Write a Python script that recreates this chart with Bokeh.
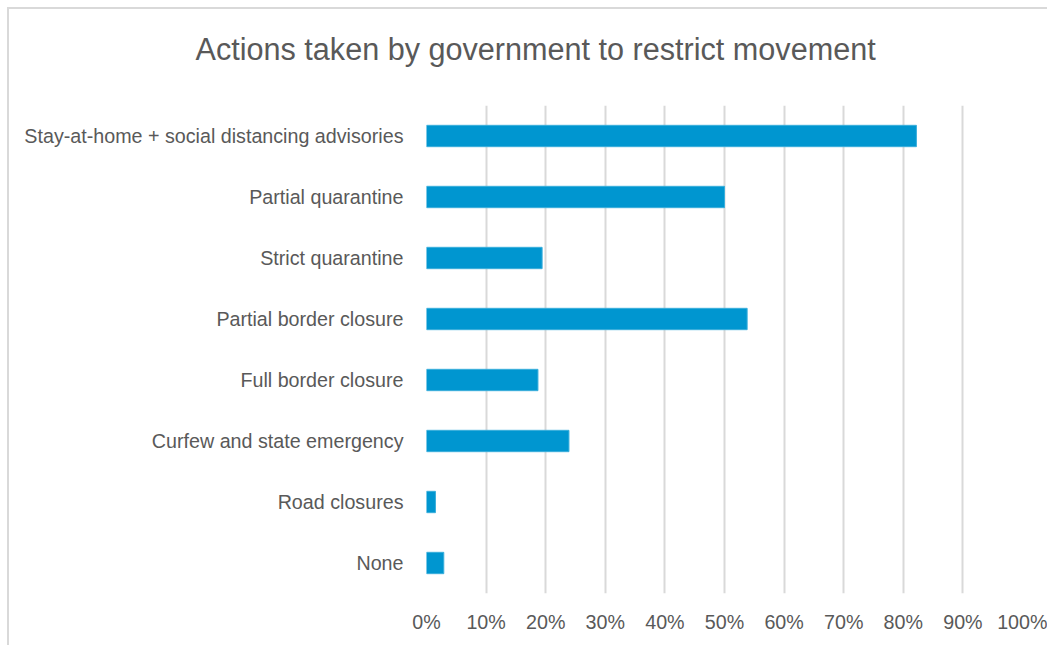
from bokeh.plotting import figure
from bokeh.models import NumeralTickFormatter, FixedTicker, Range1d, Title
from bokeh.embed import file_html
from bokeh.resources import INLINE

categories = [
    "Stay-at-home + social distancing advisories",
    "Partial quarantine",
    "Strict quarantine",
    "Partial border closure",
    "Full border closure",
    "Curfew and state emergency",
    "Road closures",
    "None",
]
values = [0.822, 0.50, 0.194, 0.538, 0.187, 0.239, 0.015, 0.029]
x_ticks = [0.0, 0.1, 0.2, 0.3, 0.4, 0.5, 0.6, 0.7, 0.8, 0.9, 1.0]

FONT = "Liberation Sans"
TEXT = "#595959"

p = figure(
    y_range=list(reversed(categories)),
    x_range=Range1d(0, 1.0),
    width=1040, height=638,
    output_backend="svg", toolbar_location=None,
    min_border_left=417, min_border_right=27,
    min_border_top=94, min_border_bottom=54,
    title="Actions taken by government to restrict movement",
)
p.styles = {"border-left": "2px solid #d9d9d9", "border-top": "2px solid #d9d9d9",
            "margin-left": "7px", "margin-top": "7px"}
p.outline_line_color = None
p.background_fill_color = "white"
p.border_fill_color = "white"

p.hbar(y=categories, right=values, left=0, height=0.35,
       fill_color="#0096d0", line_color="#3aaedb", line_width=1)

p.xgrid.grid_line_color = "#d9d9d9"
p.xgrid.grid_line_width = 2
p.ygrid.grid_line_color = None

p.xaxis.ticker = FixedTicker(ticks=x_ticks)
p.xaxis.formatter = NumeralTickFormatter(format="0%")
for ax in (p.xaxis, p.yaxis):
    ax.axis_line_color = None
    ax.major_tick_line_color = None
    ax.minor_tick_line_color = None
    ax.major_label_text_font = FONT
    ax.major_label_text_color = TEXT
    ax.major_label_text_font_size = "19.7px"
p.xaxis.major_label_standoff = 11
p.yaxis.major_label_standoff = 17

# spacer between the title and the plot area
p.add_layout(Title(text=" ", text_font_size="1px", standoff=12), "above")

p.title.text_font = FONT
p.title.text_font_size = "30.6px"
p.title.text_font_style = "normal"
p.title.text_color = TEXT
p.title.align = "left"
p.title.offset = -231
p.title.vertical_align = "top"
p.title.standoff = 45

open("out.html", "w").write(file_html(p, INLINE))
